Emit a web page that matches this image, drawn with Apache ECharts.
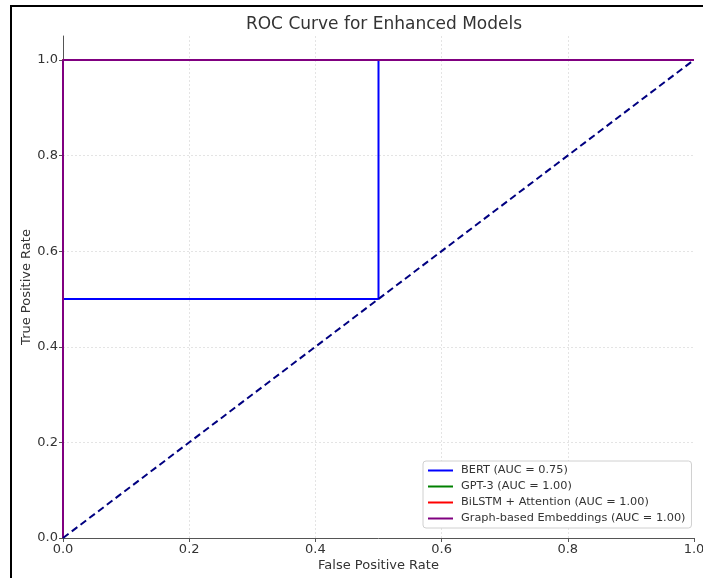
<!DOCTYPE html>
<html>
<head>
<meta charset="utf-8">
<script src="https://cdn.jsdelivr.net/npm/echarts@6/dist/echarts.min.js"></script>
<style>html,body{margin:0;padding:0;background:#fff;}#c{width:703px;height:578px;}</style>
</head>
<body>
<div id="c"></div>
<script>
// Data (ROC points: [FPR, TPR])
const modelNames = ['BERT (AUC = 0.75)', 'GPT-3 (AUC = 1.00)', 'BiLSTM + Attention (AUC = 1.00)', 'Graph-based Embeddings (AUC = 1.00)'];
const modelColors = ['#0000ff', '#008000', '#ff0000', '#800080'];
const bertFPR = [0, 0, 0.5, 0.5, 1];
const bertTPR = [0, 0.5, 0.5, 1, 1];
const gptFPR = [0, 0, 1];
const gptTPR = [0, 1, 1];
const bilstmFPR = [0, 0, 1];
const bilstmTPR = [0, 1, 1];
const graphFPR = [0, 0, 1];
const graphTPR = [0, 1, 1];
const chanceFPR = [0, 1];
const chanceTPR = [0, 1];
const xTicks = [0, 0.2, 0.4, 0.6, 0.8, 1.0];
const yTicks = [0, 0.2, 0.4, 0.6, 0.8, 1.0];

const zip = (a, b) => a.map((v, i) => [v, b[i]]);
const modelData = [zip(bertFPR, bertTPR), zip(gptFPR, gptTPR), zip(bilstmFPR, bilstmTPR), zip(graphFPR, graphTPR)];

const font = 'DejaVu Sans';
const chart = echarts.init(document.getElementById('c'), null, {renderer: 'canvas'});

const series = modelNames.map((n, i) => ({
  name: n, type: 'line', data: modelData[i], symbol: 'none', showSymbol: false,
  lineStyle: {color: modelColors[i], width: 2}, itemStyle: {color: modelColors[i]},
  animation: false, z: 2 + i
}));
series.push({
  name: 'chance', type: 'line', data: zip(chanceFPR, chanceTPR), symbol: 'none',
  lineStyle: {color: '#000080', width: 2, type: [7, 4]}, itemStyle: {color: '#000080'},
  animation: false, z: 10
});

const axisCommon = {
  type: 'value',
  axisLine: {show: true, lineStyle: {color: '#555', width: 1}},
  splitLine: {show: true, showMaxLine: false, lineStyle: {color: '#e4e4e4', width: 1, type: [2, 2]}},
  nameTextStyle: {fontFamily: font, fontSize: 13, color: '#333'},
  nameLocation: 'middle',
  nameMoveOverlap: false
};

chart.setOption({
  animation: false,
  backgroundColor: '#fff',
  title: {
    text: 'ROC Curve for Enhanced Models', left: 379, top: 11, textAlign: 'center',
    textStyle: {fontFamily: font, fontSize: 17, fontWeight: 'normal', color: '#333'}
  },
  grid: {left: 63, right: 9, top: 36, bottom: 40, containLabel: false, outerBoundsMode: 'none'},
  xAxis: Object.assign({}, axisCommon, {
    min: 0, max: 1, interval: 0.2,
    name: 'False Positive Rate', nameGap: 21,
    axisTick: {show: true, length: 4, lineStyle: {color: '#555'}, customValues: xTicks},
    axisLabel: {customValues: xTicks, margin: 5, fontFamily: font, fontSize: 13, color: '#333', formatter: v => v.toFixed(1)}
  }),
  yAxis: Object.assign({}, axisCommon, {
    min: 0, max: 1.05, interval: 0.2,
    name: 'True Positive Rate', nameGap: 30,
    axisTick: {show: true, length: 4, lineStyle: {color: '#555'}, customValues: yTicks},
    axisLabel: {customValues: yTicks, margin: 5, fontFamily: font, fontSize: 13, color: '#333', formatter: v => v.toFixed(1)}
  }),
  legend: {
    data: modelNames, orient: 'vertical', left: 423, top: 461,
    padding: [4, 6, 4, 4], itemWidth: 25, itemHeight: 12, itemGap: 5,
    itemStyle: {opacity: 0},
    lineStyle: {width: 2},
    backgroundColor: '#fff', borderColor: '#d0d0d0', borderWidth: 1, borderRadius: 3,
    textStyle: {fontFamily: font, fontSize: 11.3, color: '#333', padding: [0, 0, 0, 3]}
  },
  graphic: [{
    type: 'rect', shape: {x: 11, y: 6, width: 800, height: 700},
    style: {fill: null, stroke: '#000', lineWidth: 2}, silent: true, z: 100
  }],
  series: series
});
</script>
</body>
</html>
